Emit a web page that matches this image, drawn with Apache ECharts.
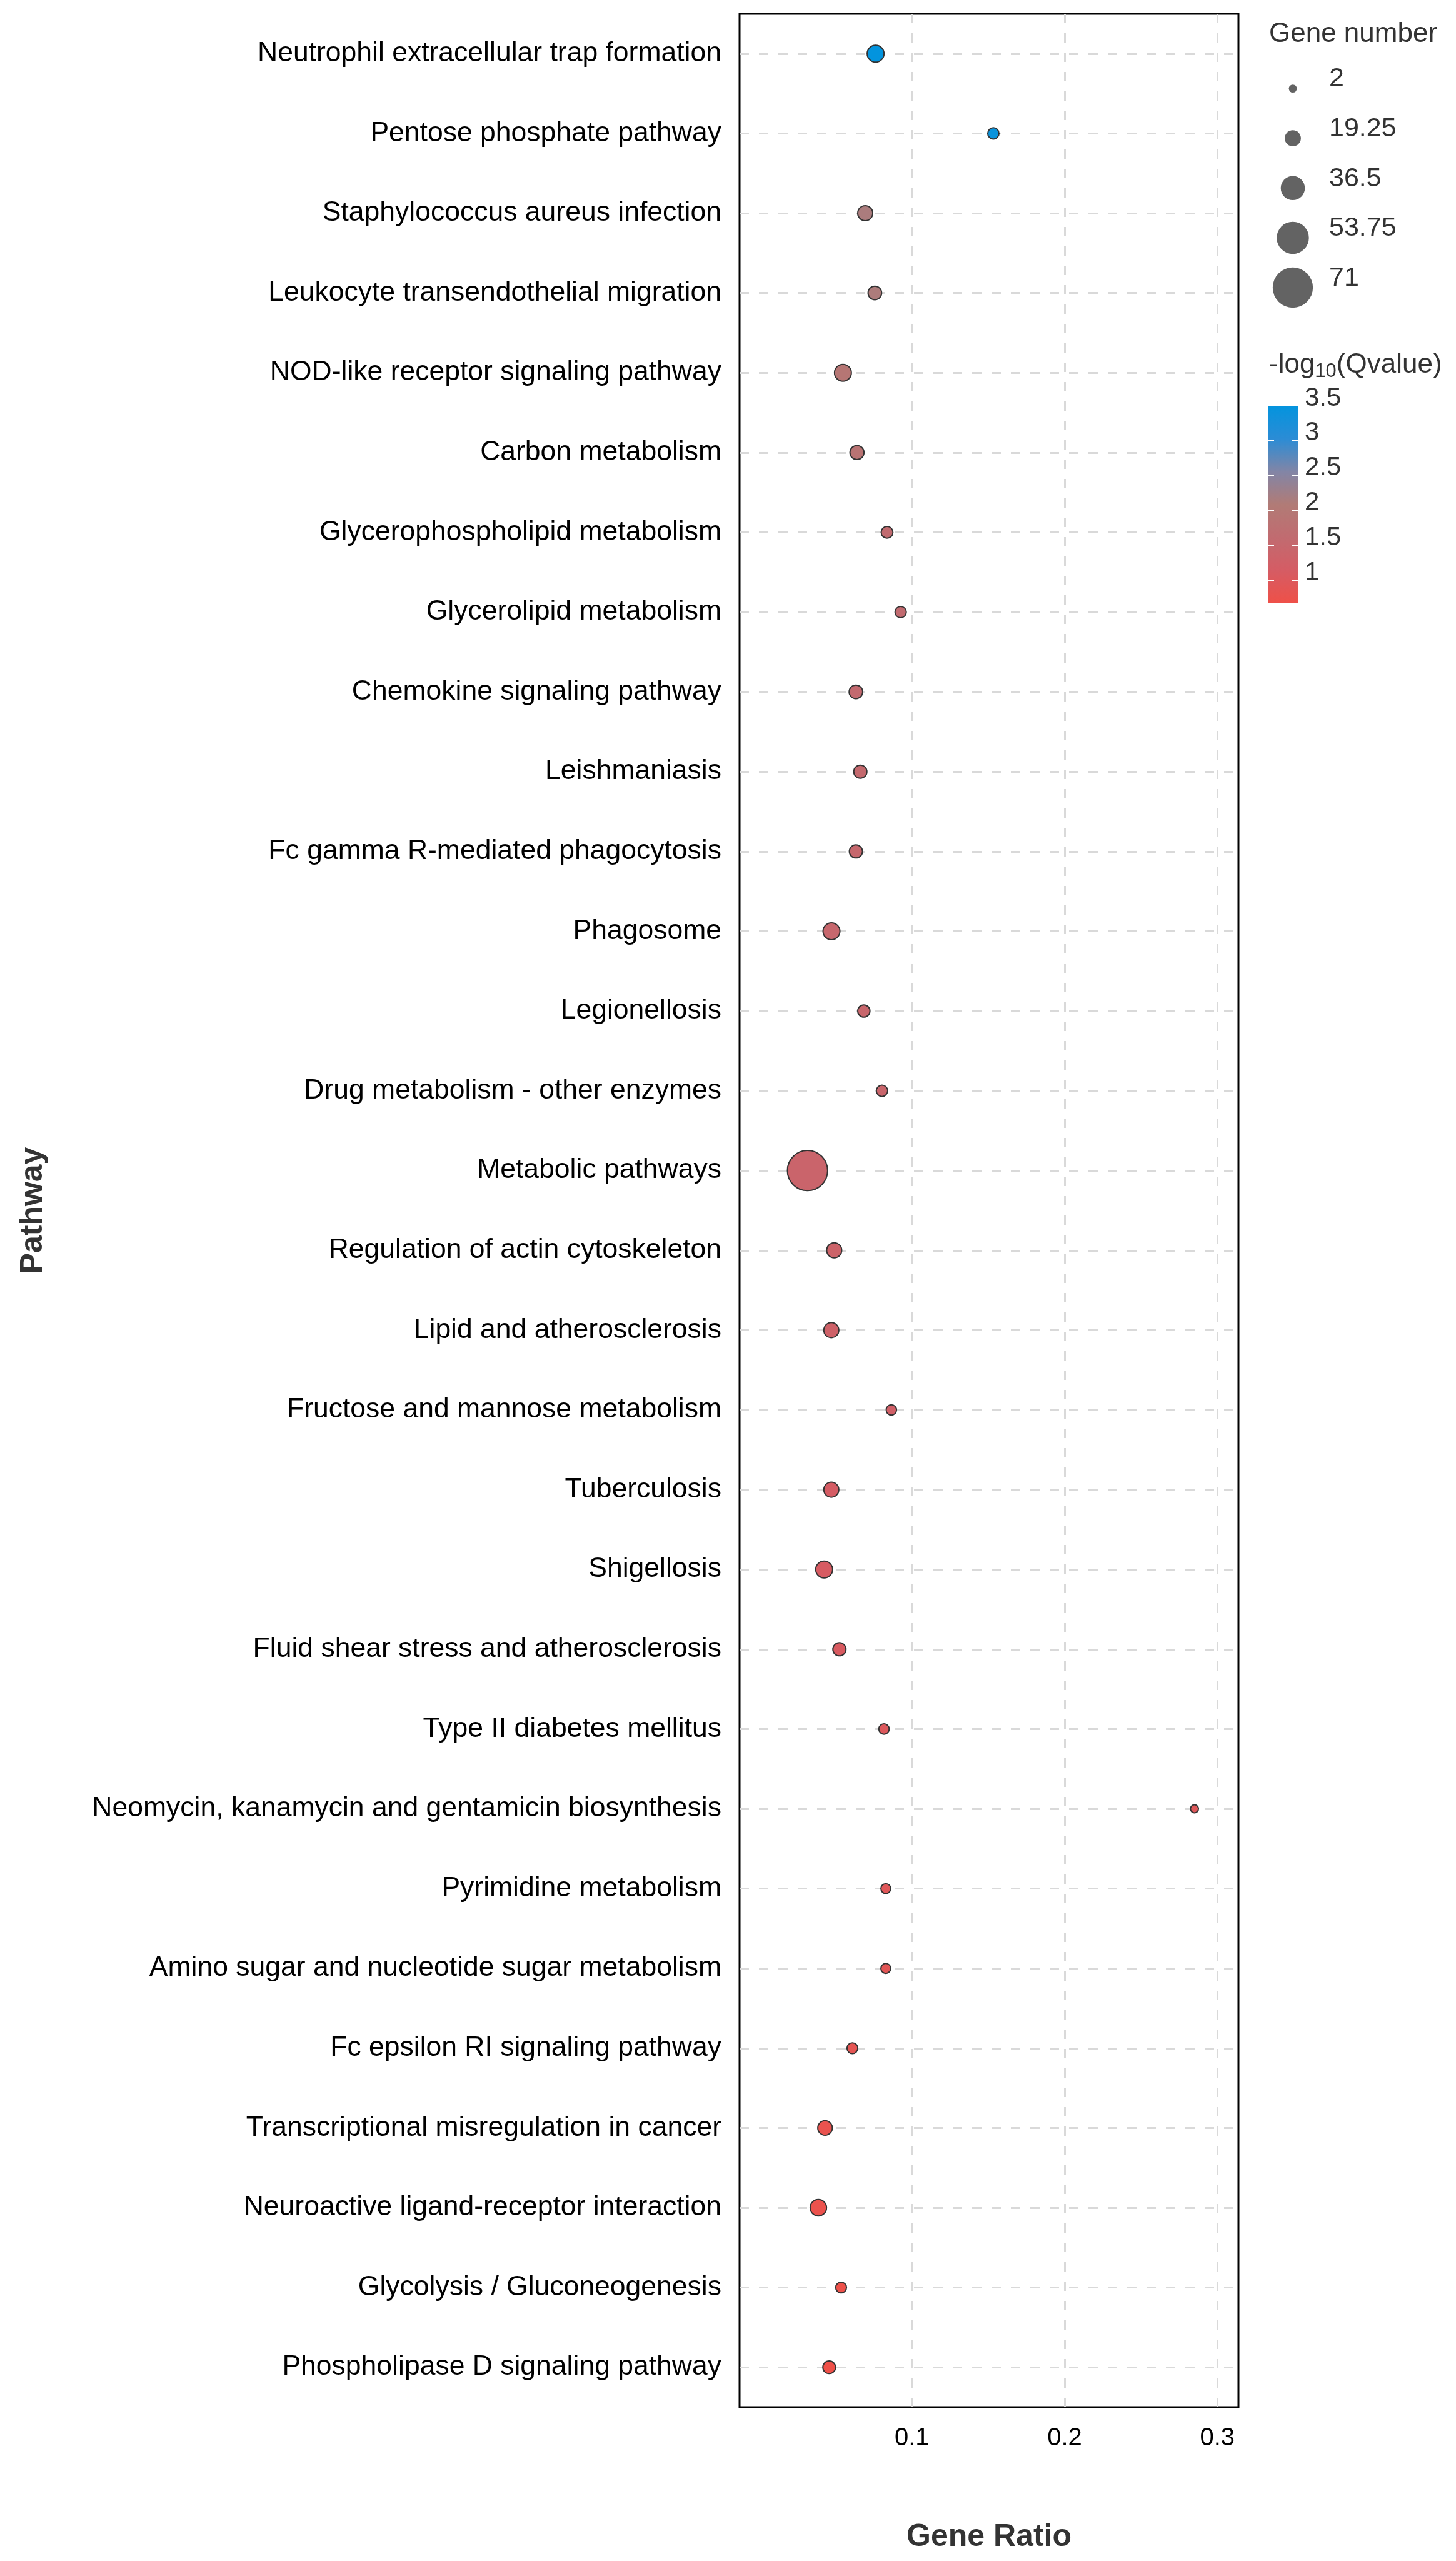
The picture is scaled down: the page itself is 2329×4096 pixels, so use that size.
<!DOCTYPE html>
<html><head><meta charset="utf-8">
<script src="https://cdn.jsdelivr.net/npm/echarts@6/dist/echarts.min.js"></script>
<style>html,body{margin:0;padding:0;background:#fff}#c{width:2329px;height:4096px}</style>
</head><body><div id="c"></div>
<script>
const pathways = [
  'Neutrophil extracellular trap formation',
  'Pentose phosphate pathway',
  'Staphylococcus aureus infection',
  'Leukocyte transendothelial migration',
  'NOD-like receptor signaling pathway',
  'Carbon metabolism',
  'Glycerophospholipid metabolism',
  'Glycerolipid metabolism',
  'Chemokine signaling pathway',
  'Leishmaniasis',
  'Fc gamma R-mediated phagocytosis',
  'Phagosome',
  'Legionellosis',
  'Drug metabolism - other enzymes',
  'Metabolic pathways',
  'Regulation of actin cytoskeleton',
  'Lipid and atherosclerosis',
  'Fructose and mannose metabolism',
  'Tuberculosis',
  'Shigellosis',
  'Fluid shear stress and atherosclerosis',
  'Type II diabetes mellitus',
  'Neomycin, kanamycin and gentamicin biosynthesis',
  'Pyrimidine metabolism',
  'Amino sugar and nucleotide sugar metabolism',
  'Fc epsilon RI signaling pathway',
  'Transcriptional misregulation in cancer',
  'Neuroactive ligand-receptor interaction',
  'Glycolysis / Gluconeogenesis',
  'Phospholipase D signaling pathway'
];
const geneRatio = [0.0762, 0.1533, 0.0694, 0.0757, 0.0548, 0.0640, 0.0837, 0.0926, 0.0633, 0.0662,
  0.0633, 0.0473, 0.0685, 0.0804, 0.0316, 0.0491, 0.0472, 0.0865, 0.0472, 0.0425,
  0.0525, 0.0817, 0.2850, 0.0829, 0.0829, 0.0610, 0.0431, 0.0387, 0.0536, 0.0458];
const geneNumber = [21, 9, 17, 14, 21, 15, 10, 9, 14, 13,
  13, 21, 11, 9, 71, 17, 17, 7, 17, 21,
  13, 7, 2, 6, 6, 8, 16, 20, 8, 12];
const negLog10Q = [3.5, 3.42, 2.15, 2.13, 1.95, 1.85, 1.62, 1.6, 1.56, 1.54,
  1.5, 1.48, 1.45, 1.43, 1.4, 1.35, 1.3, 1.25, 1.15, 1.1,
  1.08, 1.0, 0.98, 0.95, 0.9, 0.85, 0.78, 0.75, 0.7, 0.67];
const xTickValues = [0.1, 0.2, 0.3];
const sizeLegendValues = [2, 19.25, 36.5, 53.75, 71];
const colorbarTicks = [1, 1.5, 2, 2.5, 3, 3.5];
const qRange = [0.67, 3.5];
const gradientColors = ['#EF5048', '#D55C64', '#C16B70', '#B17B76', '#8285A6', '#2B8CD5', '#0394DE'];

const FONT = "'Liberation Sans', Arial, Helvetica, sans-serif";
const S = 0.757;
function sizeOf(g) {
  const gMin = sizeLegendValues[0], gMax = sizeLegendValues[sizeLegendValues.length - 1];
  return (17 + (g - gMin) * (85 - 17) / (gMax - gMin)) * S;
}

const chart = echarts.init(document.getElementById('c'), null, {renderer: 'canvas', width: 2329, height: 4096});

const mainData = pathways.map((p, i) => [geneRatio[i], p, geneNumber[i], negLog10Q[i]]);
const gridLineStyle = {type: [15, 16], color: '#d9d9d9', width: 3};

const stops = gradientColors.map((c, i) => ({offset: 1 - i / (gradientColors.length - 1), color: c}));

const option = {
  backgroundColor: '#ffffff',
  animation: false,
  textStyle: {fontFamily: FONT},
  title: [
    {text: 'Gene number', left: 2030, top: 29, padding: 0,
      textStyle: {fontSize: 44, fontWeight: 'normal', color: '#333', lineHeight: 52, fontFamily: FONT}},
    {text: '{a|-log}{s|10}{a|(Qvalue)}', left: 2030, top: 558, padding: 0,
      textStyle: {fontFamily: FONT, fontWeight: 'normal', rich: {
        a: {fontSize: 44, lineHeight: 52, color: '#333', fontWeight: 'normal', fontFamily: FONT},
        s: {fontSize: 31, lineHeight: 30, verticalAlign: 'bottom', color: '#333', fontWeight: 'normal', fontFamily: FONT}
      }}}
  ],
  grid: [
    {left: 1183, top: 22, width: 798, height: 3828, show: true, borderColor: '#000', borderWidth: 3,
      backgroundColor: 'transparent', containLabel: false, outerBoundsMode: 'none'},
    {left: 2028, top: 649, width: 48.5, height: 316, containLabel: false, outerBoundsMode: 'none'},
    {left: 2028, top: 101.8, width: 80, height: 398, containLabel: false, outerBoundsMode: 'none'}
  ],
  xAxis: [
    {gridIndex: 0, type: 'value', min: -0.0129, max: 0.3138,
      axisLine: {show: false}, axisTick: {show: false}, splitLine: {show: false},
      axisLabel: {customValues: xTickValues, fontSize: 40, color: '#000', margin: 30, fontFamily: FONT},
      name: 'Gene Ratio', nameLocation: 'middle', nameGap: 208,
      nameTextStyle: {fontSize: 50, fontWeight: 'bold', color: '#333', verticalAlign: 'middle', fontFamily: FONT}},
    {gridIndex: 1, type: 'category', data: ['cb'], show: false},
    {gridIndex: 2, type: 'value', min: 0, max: 1, show: false}
  ],
  yAxis: [
    {gridIndex: 0, type: 'category', data: pathways, inverse: true,
      axisLine: {show: false}, axisTick: {show: false}, splitLine: {show: false},
      axisLabel: {fontSize: 44.5, color: '#000', margin: 29, interval: 0, fontFamily: FONT},
      name: 'Pathway', nameLocation: 'middle', nameGap: 1130, nameRotate: 90,
      nameTextStyle: {fontSize: 50, fontWeight: 'bold', color: '#333', verticalAlign: 'middle', fontFamily: FONT}},
    {gridIndex: 1, type: 'value', min: qRange[0], max: qRange[1], position: 'left', z: 10,
      axisLine: {show: false}, splitLine: {show: false}, axisLabel: {show: false},
      axisTick: {show: true, inside: true, length: 10, customValues: colorbarTicks.filter(v => v < qRange[1]),
        lineStyle: {color: '#fff', width: 2}}},
    {gridIndex: 1, type: 'value', min: qRange[0], max: qRange[1], position: 'right', z: 10,
      axisLine: {show: false}, splitLine: {show: false},
      axisTick: {show: true, inside: true, length: 10, customValues: colorbarTicks.filter(v => v < qRange[1]),
        lineStyle: {color: '#fff', width: 2}},
      axisLabel: {customValues: colorbarTicks, fontSize: 42, color: '#333', margin: 10.5,
        verticalAlign: 'bottom', lineHeight: 24, fontFamily: FONT}},
    {gridIndex: 2, type: 'category', data: sizeLegendValues.map(String), inverse: true, position: 'right',
      axisLine: {show: false}, axisTick: {show: false}, splitLine: {show: false},
      axisLabel: {fontSize: 43, color: '#333', margin: 18, verticalAlign: 'bottom', lineHeight: 30, interval: 0, fontFamily: FONT}}
  ],
  visualMap: {type: 'continuous', show: false, seriesIndex: 1, dimension: 3,
    min: qRange[0], max: qRange[1], inRange: {color: gradientColors}},
  series: [
    {type: 'scatter', xAxisIndex: 0, yAxisIndex: 0, z: 1, silent: true,
      data: mainData.map(d => [d[0], d[1]]), symbolSize: 0, itemStyle: {opacity: 0},
      markLine: {z: 1, silent: true, symbol: ['none', 'none'], label: {show: false}, lineStyle: gridLineStyle,
        emphasis: {disabled: true},
        data: pathways.map(p => ({yAxis: p})).concat(xTickValues.map(v => ({xAxis: v})))}},
    {type: 'scatter', xAxisIndex: 0, yAxisIndex: 0, z: 3,
      data: mainData, symbolSize: v => sizeOf(v[2]),
      itemStyle: {borderColor: '#333', borderWidth: 2, opacity: 1}},
    {type: 'custom', xAxisIndex: 1, yAxisIndex: 1, data: [[0, qRange[1]]], silent: true, z: 2,
      renderItem: function (params, api) {
        const top = api.coord([0, qRange[1]]);
        const bot = api.coord([0, qRange[0]]);
        const w = api.size([1, 0])[0];
        return {type: 'rect', shape: {x: top[0] - w / 2, y: top[1], width: w, height: bot[1] - top[1]},
          style: {fill: new echarts.graphic.LinearGradient(0, 0, 0, 1, stops)}};
      }},
    {type: 'scatter', xAxisIndex: 2, yAxisIndex: 3, silent: true,
      data: sizeLegendValues.map(v => [0.5, String(v), v]), symbolSize: v => sizeOf(v[2]),
      itemStyle: {color: '#636363', opacity: 1}}
  ]
};
chart.setOption(option);
</script></body></html>
